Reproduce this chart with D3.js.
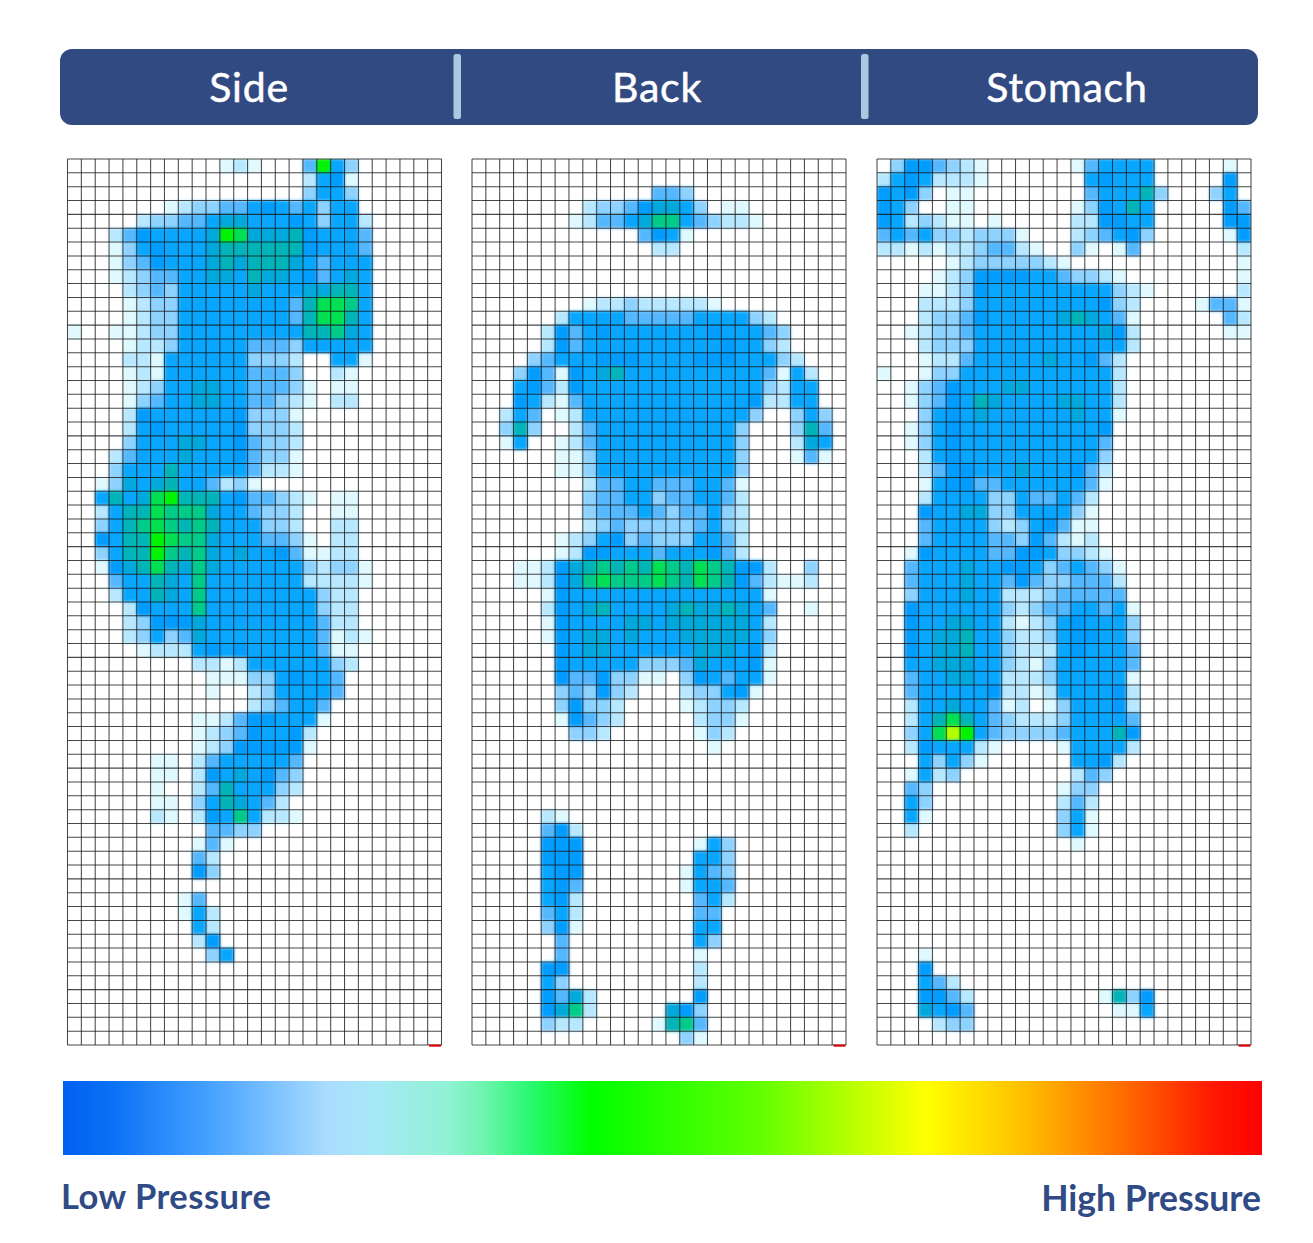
<!DOCTYPE html>
<html><head><meta charset="utf-8">
<script src="https://cdn.jsdelivr.net/npm/d3@7"></script>
<style>html,body{margin:0;padding:0;background:#fff}svg{display:block}</style>
</head><body><div id="c"></div>
<script>
const panelNames = ["Side","Back","Stomach"];
const legendLabels = ["Low Pressure","High Pressure"];
// pressure level of every sensor cell, one hex-like char per cell ('.' = none)
const levelColors = ["#ffffff","#dff9ff","#b8e8ff","#8ed2ff","#55b8ff","#08a6ff","#009cff","#00a8dc","#00b4b8","#00cc88","#00e050","#00f400","#b4ff00"];
const legendStops = [[0,"#0060f0"],[0.04,"#0a70f5"],[0.12,"#44a0ff"],[0.22,"#aadcff"],[0.26,"#a6e8f6"],[0.32,"#90f2d4"],[0.35,"#70f4b0"],[0.39,"#28f870"],[0.44,"#00ff00"],[0.58,"#60ff00"],[0.72,"#ffff00"],[0.80,"#ffc000"],[0.88,"#ff7000"],[0.96,"#ff1800"],[1,"#ff0000"]];
const sideRows = [
"...........121...4b53......",
".................2561......",
".................3553......",
".......12334456545355......",
".....23344577555653552.....",
"...24655557ba777865554.....",
"...1356555788888865554.....",
"...1346555787888754555.....",
"...1234455775877564575.....",
"....234355555755577885.....",
"....12335555555548aa95.....",
"....12335555555548aa85.....",
"1..1123355555555588975.....",
"....122355555444355555.....",
"....2215555553332..551.....",
"....1215555554443..21......",
"....12355775544431.11......",
"....13455775544321.22......",
"....2655555563331..........",
"....2565555563332..........",
"....3555775564332..........",
"...24555755564331..........",
"...35558555554221..........",
"..137578554231.............",
"..5857ab8885644321.11......",
"..2588a9997554332..11......",
"..3589a9898555332..22......",
"..6588ba9975554431.22......",
"..3588b98975755641122......",
"..1678a879755555532331.....",
"...4558759555555522221.....",
"...255875955555555322......",
"....26555955555555322......",
"....23666755555555422......",
"....235347555555554121.....",
".....1222565655555411......",
".........221255555532......",
"..........1113356554.......",
"..........1..2355554.......",
".............234554........",
".........1124665551........",
".........123465562.........",
".........123666661.........",
"......11.24555554..........",
"......11.26575643..........",
"......1..24855532..........",
"......11.3587542...........",
"......21.26595221..........",
"..........4433.............",
".........141...............",
".........42................",
".........63................",
"",
"........14.................",
"........152................",
".........52................",
".........26................",
"..........35...............",
"","","","","",""];
const backRows = [
"","",
".............443...........",
"........233467753.11.......",
".......12445799543221......",
"............4651...........",
".............22............",
"","","",
"........1223222221.........",
"......2555544444555532.....",
".....264565555555655543....",
".....264555555555565532....",
"....34555666555566655532...",
"...3641657855555555554152..",
"...5642655555555555553255..",
"...6521455555555555562255..",
"..254.125555555555553..353.",
"..383..2455555555553...384.",
"..15..12455555555553...275.",
"......11355555555553...141.",
"......11355555555553.......",
"........244554445541.......",
"........344553445542.......",
"........344454344532.......",
"........234333334532.......",
"......12356343335542.......",
"......12665554555642.......",
"...1126789898a98a98662..3..",
"...112679a999a98a98642112..",
".....16555555555555551.....",
".....26578555578778754..1..",
".....16555577577777752.....",
".....16577575557777753.....",
"......6577555555777562.....",
"......6555553334755561.....",
"......64463311.3654551.....",
"......343632...233561......",
"......36332....12332.......",
"......16432.....2331.......",
".......332......132........",
".................1.........",
"","","","",
".....21....................",
".....462...................",
".....666........153........",
".....666........553........",
".....566.......1543........",
".....564.......1554........",
".....562........452........",
".....452........44.........",
".....361........55.........",
"......4.........53.........",
"......4.........1..........",
".....66.........2..........",
".....53.........2..........",
".....6472.......6..........",
".....6792.....763..........",
".....322.....1894..........",
"...............31.........."];
const stomachRows = [
".3664321......145555.....1.",
"25652221.......56555.....6.",
"6563.11........455583...35.",
"653..11.......136585.....64",
"6523211.1.....226655.....66",
"45453323331...234563.....16",
"221212234421..31.14.......2",
".....123333321............1",
"....12366665543321........1",
"...11236555555555321......2",
"...2223555555555632....1441",
"...2334655555787541......42",
"..12334555555555762......11",
"...2333555555555552........",
"...122455555755642.........",
"1..133555555555552.........",
"..1346555775555552.........",
"..1346587555577552.........",
"...356575555557551.........",
"..135655555555556..........",
"..135655555555554..........",
"...25655555555553..........",
"...24665557555642..........",
"...15664455555541..........",
"...2555533544542...........",
"...6557733555531...........",
"...4555532356411...........",
"...4555544364212...........",
"..165555446653321..........",
"..4555755665345431.........",
"..4555755464334442.........",
"..3555755222344444.........",
"..65555553234455451........",
"..65577552123565553........",
"..65778553223566553........",
"..65778553222565554........",
"..55777553213555554........",
"..45577552223555551........",
"..45555562212555562........",
"..255755412.1355562........",
"..258a8543222355554........",
"..35acb543333455586........",
"..2655521....155552........",
"...53531......5562.........",
"..1523........243..........",
"..43.........133...........",
"..53.........242...........",
"..51.........351...........",
"..2..........351...........",
"..............1............",
"","","","","","","",
"...1.......................",
"...6.......................",
"...542.....................",
"...6642.........1836.......",
"...7564..........115.......",
"....233....................",
""];
const panelRows = [sideRows, backRows, stomachRows];
const nCols = 27, nRows = 64;

const W = 1313, H = 1243;
const svg = d3.select("#c").append("svg").attr("width",W).attr("height",H).attr("viewBox",`0 0 ${W} ${H}`);
const defs = svg.append("defs");
const blur = defs.append("filter").attr("id","soft").attr("x","-5%").attr("y","-5%").attr("width","110%").attr("height","110%")
  .attr("color-interpolation-filters","sRGB");
blur.append("feGaussianBlur").attr("stdDeviation",1.7);

// header band
const headerColor = "#324a82";
svg.append("rect").attr("x",60).attr("y",49).attr("width",1198).attr("height",76).attr("rx",12).attr("fill",headerColor);
const dividerX = [453.5,861];
svg.selectAll(".div").data(dividerX).join("rect").attr("x",d=>d).attr("y",54).attr("width",7.5).attr("height",65).attr("rx",2.5).attr("fill","#a9c9df");
const headerX = [249,657,1067];
svg.selectAll(".hdr").data(panelNames).join("text").text(d=>d)
  .attr("x",(d,i)=>headerX[i]).attr("y",102).attr("text-anchor","middle")
  .attr("font-family","Lato, sans-serif").attr("font-size",41).attr("letter-spacing",0.8)
  .attr("fill","#fff").attr("stroke","#fff").attr("stroke-width",0.5);

// panels
const panelX = [67.5,472,877];
const panelW = 374, panelTop = 159, panelBottom = 1045;
const y = d3.scaleLinear().domain([0,nRows]).range([panelTop,panelBottom]);
panelRows.forEach((rows,p)=>{
  const x = d3.scaleLinear().domain([0,nCols]).range([panelX[p],panelX[p]+panelW]);
  const cells = [];
  rows.forEach((s,r)=>{ s.padEnd(nCols,".").split("").forEach((ch,c)=>{ if(ch!=="."){ cells.push({r,c,v:parseInt(ch,16)}); } }); });
  defs.append("clipPath").attr("id","clip"+p).append("rect").attr("x",x(0)).attr("y",y(0)).attr("width",panelW).attr("height",panelBottom-panelTop);
  const g = svg.append("g").attr("clip-path",`url(#clip${p})`);
  g.append("g").attr("filter","url(#soft)").selectAll("rect").data(cells).join("rect")
    .attr("x",d=>x(d.c)-0.2).attr("y",d=>y(d.r)-0.2)
    .attr("width",x(1)-x(0)+0.4).attr("height",y(1)-y(0)+0.4)
    .attr("fill",d=>levelColors[d.v]);
  const grid = svg.append("g").attr("stroke","#141414").attr("stroke-width",1.05).attr("stroke-opacity",0.78);
  grid.selectAll(".v").data(d3.range(nCols+1)).join("line")
    .attr("x1",d=>x(d)).attr("x2",d=>x(d)).attr("y1",y(0)).attr("y2",y(nRows));
  grid.selectAll(".h").data(d3.range(nRows+1)).join("line")
    .attr("x1",x(0)).attr("x2",x(nCols)).attr("y1",d=>y(d)).attr("y2",d=>y(d));
  svg.append("rect").attr("x",x(nCols)-12.5).attr("y",panelBottom-0.5).attr("width",12).attr("height",2.2).attr("fill","#d8080c");
});

// legend
const lg = defs.append("linearGradient").attr("id","legend");
lg.selectAll("stop").data(legendStops).join("stop").attr("offset",d=>d[0]).attr("stop-color",d=>d[1]);
svg.append("rect").attr("x",63).attr("y",1081).attr("width",1199).attr("height",74).attr("fill","url(#legend)");
svg.append("text").text(legendLabels[0]).attr("x",61).attr("y",1209).attr("font-family","Lato, sans-serif").attr("font-size",34.5).attr("letter-spacing",0.5).attr("font-weight",700).attr("fill","#2f4a85");
svg.append("text").text(legendLabels[1]).attr("x",1261).attr("y",1211).attr("text-anchor","end").attr("font-family","Lato, sans-serif").attr("font-size",35.5).attr("font-weight",700).attr("fill","#2f4a85");
</script></body></html>
